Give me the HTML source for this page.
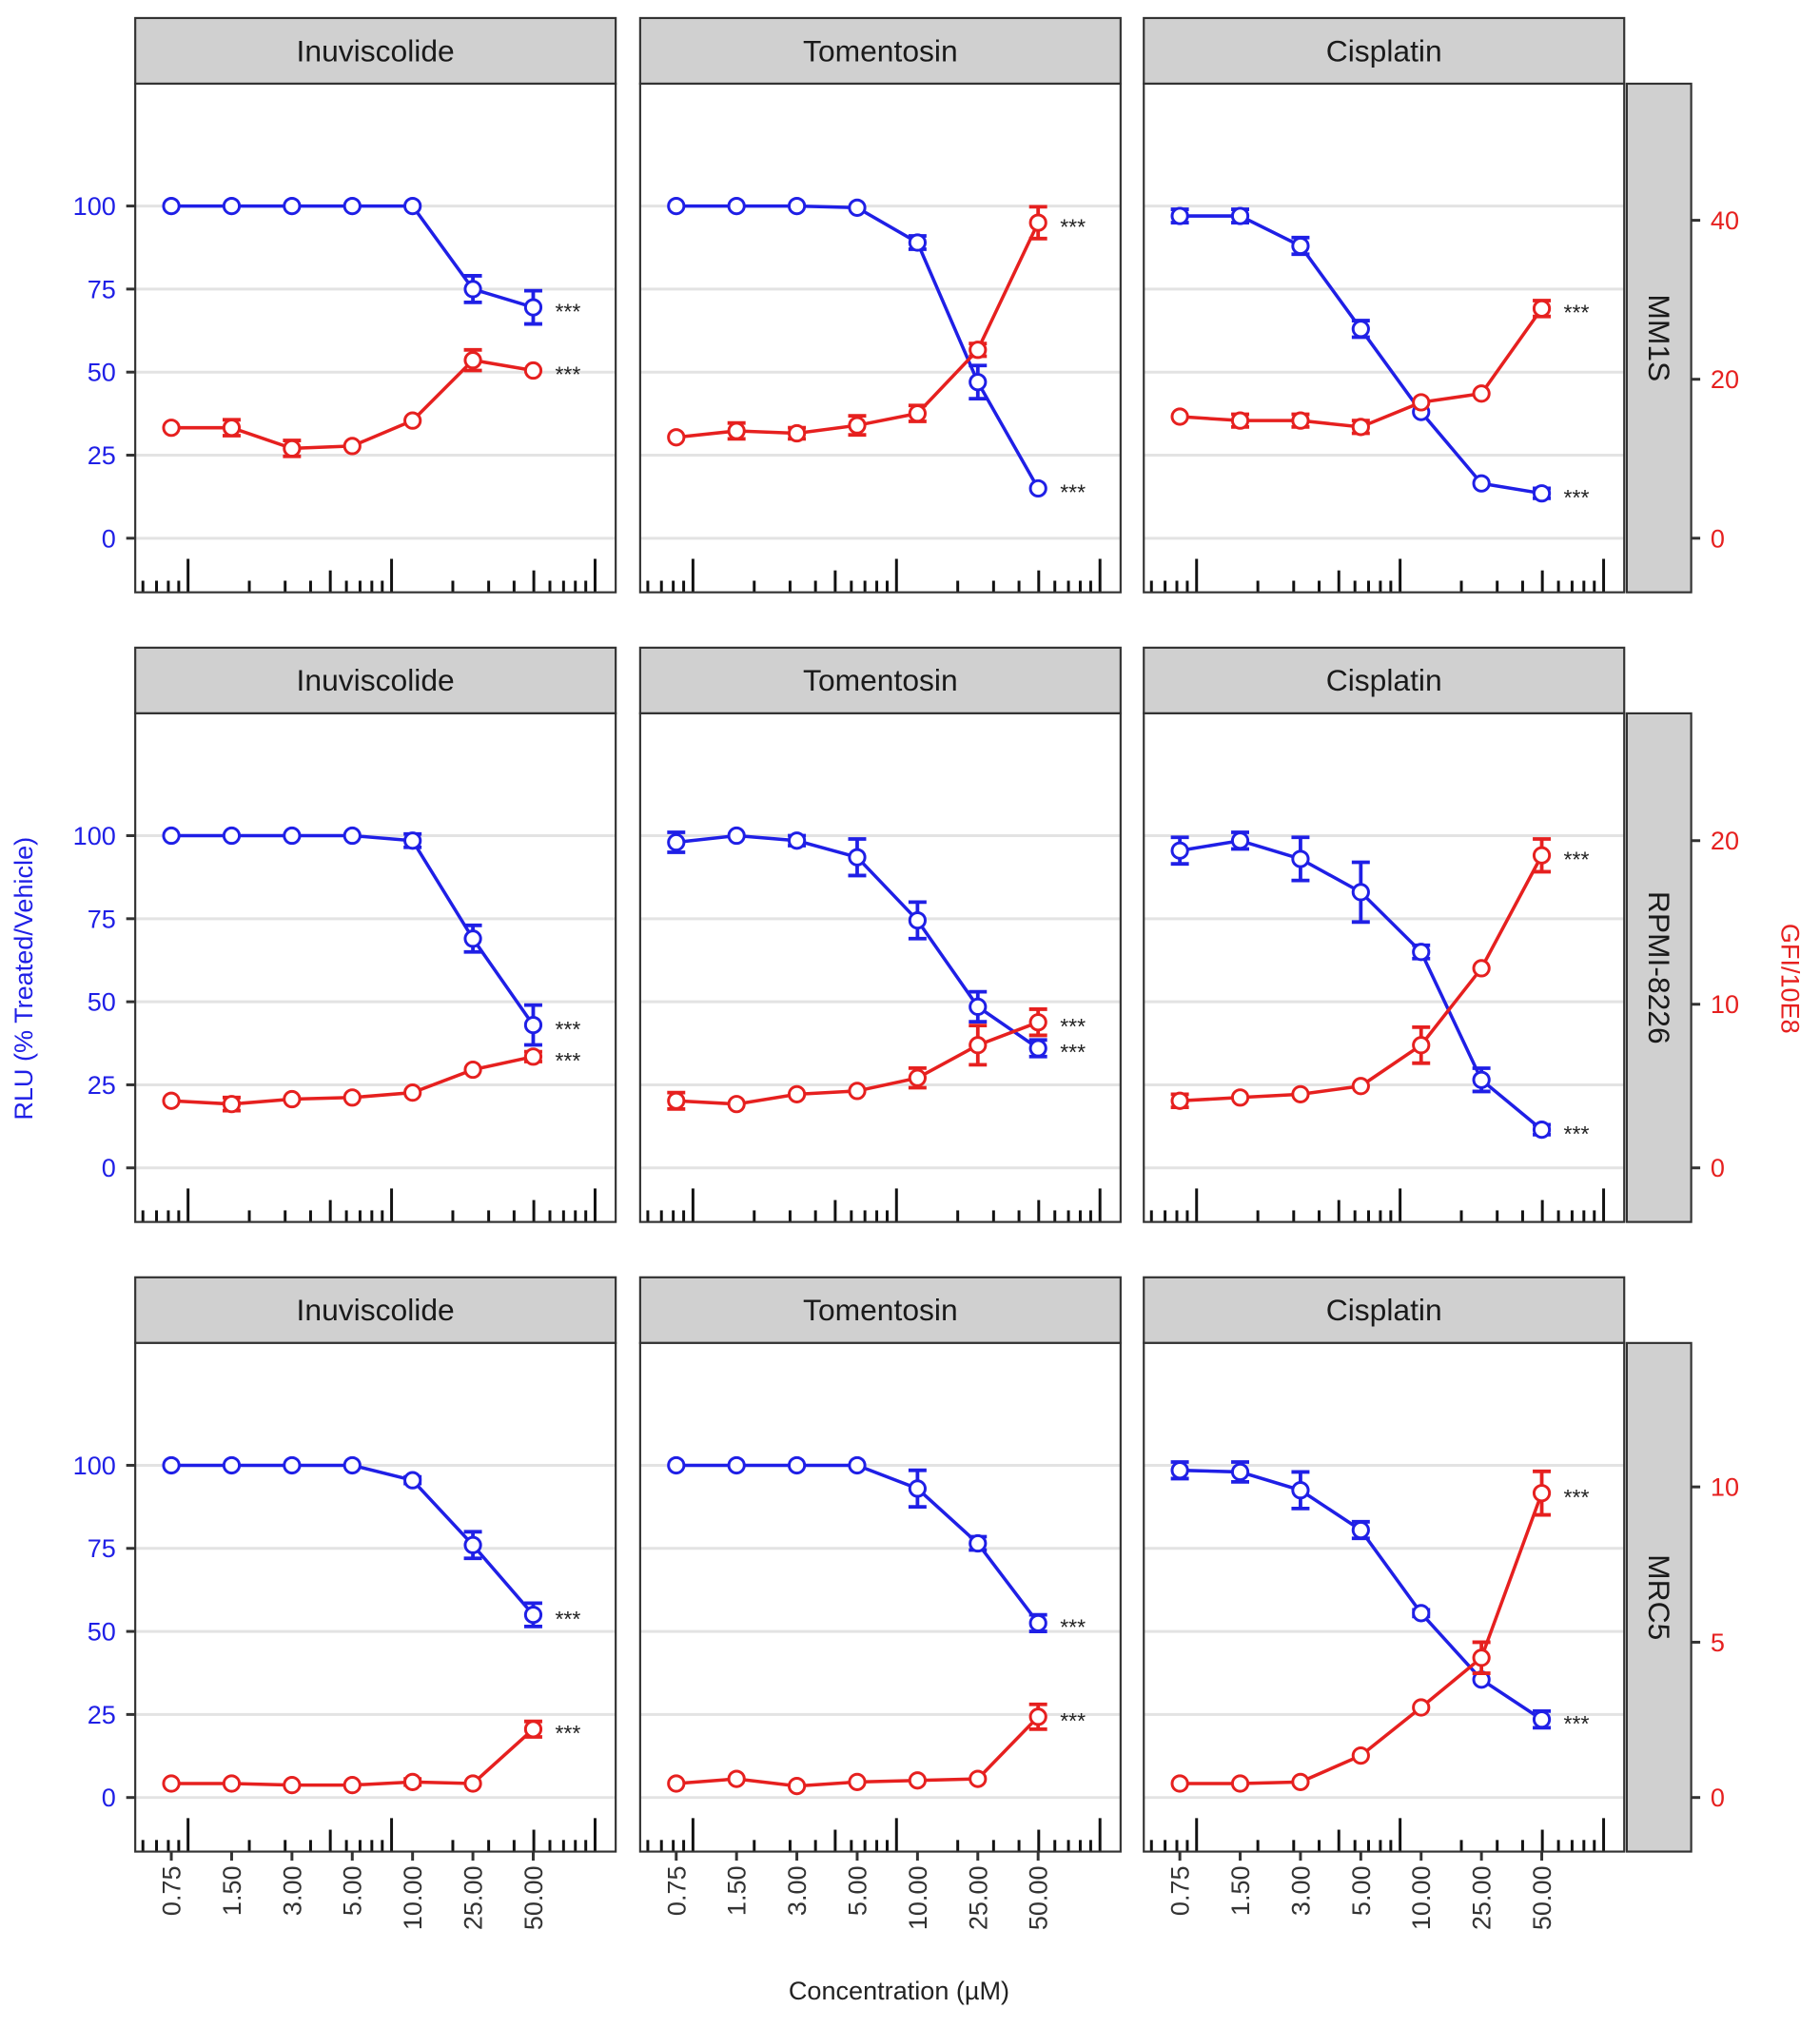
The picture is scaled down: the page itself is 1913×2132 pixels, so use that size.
<!DOCTYPE html>
<html><head><meta charset="utf-8">
<style>
html,body{margin:0;padding:0;background:#fff;}
svg{display:block;font-family:"Liberation Sans",Arial,sans-serif;}
</style></head>
<body>
<svg id="chart" width="1913" height="2132" viewBox="0 0 1413 1575" preserveAspectRatio="none" xmlns="http://www.w3.org/2000/svg"></svg>
<script>
const concentrations = ["0.75","1.50","3.00","5.00","10.00","25.00","50.00"];
const drugs = ["Inuviscolide","Tomentosin","Cisplatin"];
const cellLines = ["MM1S","RPMI-8226","MRC5"];
const leftTicks = [0,25,50,75,100];
const rightTicks = [[0,20,40],[0,10,20],[0,5,10]];
const rightMax = [[40,95.7],[20,98.5],[10,93.5]]; // GFI value & equivalent RLU
// RLU (blue) values [row][col]
const rluValues = [
 [[100,100,100,100,100,75,69.5],[100,100,100,99.5,89,47,15],[97,97,88,63,38,16.5,13.5]],
 [[100,100,100,100,98.5,69,43],[98,100,98.5,93.5,74.5,48.5,36],[95.5,98.5,93,83,65,26.5,11.5]],
 [[100,100,100,100,95.5,76,55],[100,100,100,100,93,76.5,52.5],[98.5,98,92.5,80.5,55.5,35.5,23.5]]
];
const rluErrors = [
 [[0,0,0,0,0,4,5],[0,0,0,0,2,5,0],[2,2,2.5,2.5,0,0,1.5]],
 [[0,0,0,0,2,4,6],[3,0,1.5,5.5,5.5,4.5,2.5],[4,2.5,6.5,9,2,3.5,1.5]],
 [[0,0,0,0,1,4,3.5],[0,0,0,0,5.5,2,2.5],[2.5,3,5.5,2.5,1,0,2.5]]
];
// GFI (red) values [row][col]
const gfiValues = [
 [[13.9,13.9,11.3,11.6,14.8,22.4,21.1],[12.7,13.5,13.2,14.2,15.7,23.7,39.7],[15.3,14.8,14.8,14.0,17.1,18.2,28.9]],
 [[4.1,3.9,4.2,4.3,4.6,6.0,6.8],[4.1,3.9,4.5,4.7,5.5,7.5,8.9],[4.1,4.3,4.5,5.0,7.5,12.2,19.1]],
 [[0.45,0.45,0.4,0.4,0.5,0.45,2.2],[0.45,0.6,0.37,0.5,0.55,0.6,2.6],[0.45,0.45,0.5,1.35,2.9,4.5,9.8]]
];
const gfiErrors = [
 [[0,1,1,0,0,1.3,0],[0,1,0.7,1.2,1,0.8,2],[0,0.8,0.8,0.8,0,0,1]],
 [[0,0.4,0,0,0,0,0.3],[0.5,0,0,0,0.6,1.2,0.8],[0.4,0,0,0,1.1,0,1]],
 [[0,0,0,0,0.1,0,0.25],[0,0,0,0,0,0,0.4],[0,0,0,0,0,0.5,0.7]]
];
// significance: [row][col] -> [blueStar, redStar]
const sigStars = [
 [[1,1],[1,1],[1,1]],
 [[1,1],[1,1],[1,1]],
 [[1,1],[1,1],[1,1]]
];

const NS="http://www.w3.org/2000/svg";
const svg=document.getElementById('chart');
function mk(tag,attrs,parent){const e=document.createElementNS(NS,tag);for(const k in attrs)e.setAttribute(k,attrs[k]);(parent||svg).appendChild(e);return e;}
const colL=[105,497,888], W=373, rowTop=[14,503,992], stripH=51, PH=395;
const BLUE="#1f1fe6", RED="#e6201f";

function xPos(c,i){return colL[c]+28+46.83*i;}
function yRlu(r,v){const top=rowTop[r]+stripH;return top+353-(353-95)*v/100;}
function yGfi(r,v){return yRlu(r,v/rightMax[r][0]*rightMax[r][1]);}
function logX(c,v){return colL[c]+41+158*Math.log10(v);}

for(let r=0;r<3;r++){
  const pTop=rowTop[r]+stripH, pBot=pTop+PH;
  for(let c=0;c<3;c++){
    const g=mk('g',{});
    
    
    const st=mk('rect',{x:colL[c],y:rowTop[r],width:W,height:stripH,fill:'#d0d0d0',stroke:'#333','stroke-width':1.6},g);
    
    
    const stt=mk('text',{x:colL[c]+W/2,y:rowTop[r]+stripH/2+8,'text-anchor':'middle','font-size':23.5,fill:'#1a1a1a'},g);
    stt.textContent=drugs[c];
    
    
    mk('rect',{x:colL[c],y:pTop,width:W,height:PH,fill:'#fff'},g);
    leftTicks.forEach(t=>{mk('line',{x1:colL[c],x2:colL[c]+W,y1:yRlu(r,t),y2:yRlu(r,t),stroke:'#e3e3e3','stroke-width':2.2},g);});
    [0.1,1,10,100].forEach(d=>{for(let m=1;m<=9;m++){const v=d*m;const x=logX(c,v);
      if(x<colL[c]+2||x>colL[c]+W-2)continue;
      const len=m===1?26:(m===5?17:9);
      mk('line',{x1:x,x2:x,y1:pBot,y2:pBot-len,stroke:'#111','stroke-width':2.2},g);
      if(d===100)break;}});
    [[rluValues,rluErrors,BLUE,yRlu,'rlu'],[gfiValues,gfiErrors,RED,yGfi,'gfi']].forEach(([vals,errs,col,yf,nm])=>{
      const v=vals[r][c], e=errs[r][c];
      const pts=v.map((val,i)=>xPos(c,i)+','+yf(r,val)).join(' ');
      const pl=mk('polyline',{points:pts,fill:'none',stroke:col,'stroke-width':2.6},g);
      
      
      v.forEach((val,i)=>{
        const x=xPos(c,i);
        if(e[i]>0){
          const y1=yf(r,val+e[i]), y2=yf(r,val-e[i]);
          const eb=mk('path',{d:`M${x-7},${y1}H${x+7}M${x},${y1}V${y2}M${x-7},${y2}H${x+7}`,stroke:col,'stroke-width':2.8,fill:'none'},g);
          
          
        }
        const pt=mk('circle',{cx:x,cy:yf(r,val),r:6,fill:'#fff',stroke:col,'stroke-width':2.2},g);
        
        
      });
      const si=nm==='rlu'?0:1;
      if(sigStars[r][c][si]){
        const s=mk('text',{x:xPos(c,6)+17,y:yf(r,v[6])+9,'font-size':17,fill:'#222'},g);
        s.textContent='***';
        
        
      }
    });
    mk('rect',{x:colL[c],y:pTop,width:W,height:PH,fill:'none',stroke:'#333','stroke-width':1.6},g);
    if(r===2){
      concentrations.forEach((lab,i)=>{const x=xPos(c,i);
        mk('line',{x1:x,x2:x,y1:pBot,y2:pBot+7,stroke:'#333','stroke-width':2.2},g);
        const t=mk('text',{transform:`translate(${x+7},${pBot+11}) rotate(-90)`,'text-anchor':'end','font-size':20,fill:'#333'},g);
        t.textContent=lab;
        
        
      });
    }
  }
  leftTicks.forEach(t=>{const y=yRlu(r,t);
    mk('line',{x1:98,x2:105,y1:y,y2:y,stroke:'#333','stroke-width':2.2});
    const tx=mk('text',{x:90,y:y+7,'text-anchor':'end','font-size':20,fill:BLUE});
    tx.textContent=t;
    
    
  });
  const rs=mk('rect',{x:1263,y:pTop,width:50,height:PH,fill:'#d0d0d0',stroke:'#333','stroke-width':1.6});
  
  
  const rst=mk('text',{transform:`translate(1280,${pTop+PH/2}) rotate(90)`,'text-anchor':'middle','font-size':23.5,fill:'#1a1a1a'});
  rst.textContent=cellLines[r];
  
  
  rightTicks[r].forEach(t=>{const y=yGfi(r,t);
    mk('line',{x1:1313,x2:1320,y1:y,y2:y,stroke:'#333','stroke-width':2.2});
    const tx=mk('text',{x:1328,y:y+7,'font-size':20,fill:RED});
    tx.textContent=t;
    
    
  });
}
const yt=mk('text',{transform:'translate(25,760) rotate(-90)','text-anchor':'middle','font-size':20,fill:BLUE});
yt.textContent='RLU (% Treated/Vehicle)';


const yt2=mk('text',{transform:'translate(1383,760) rotate(90)','text-anchor':'middle','font-size':20,fill:RED});
yt2.textContent='GFI/10E8';


const xt=mk('text',{x:698,y:1553,'text-anchor':'middle','font-size':20,fill:'#222'});
xt.textContent='Concentration (µM)';


</script>
</body></html>
